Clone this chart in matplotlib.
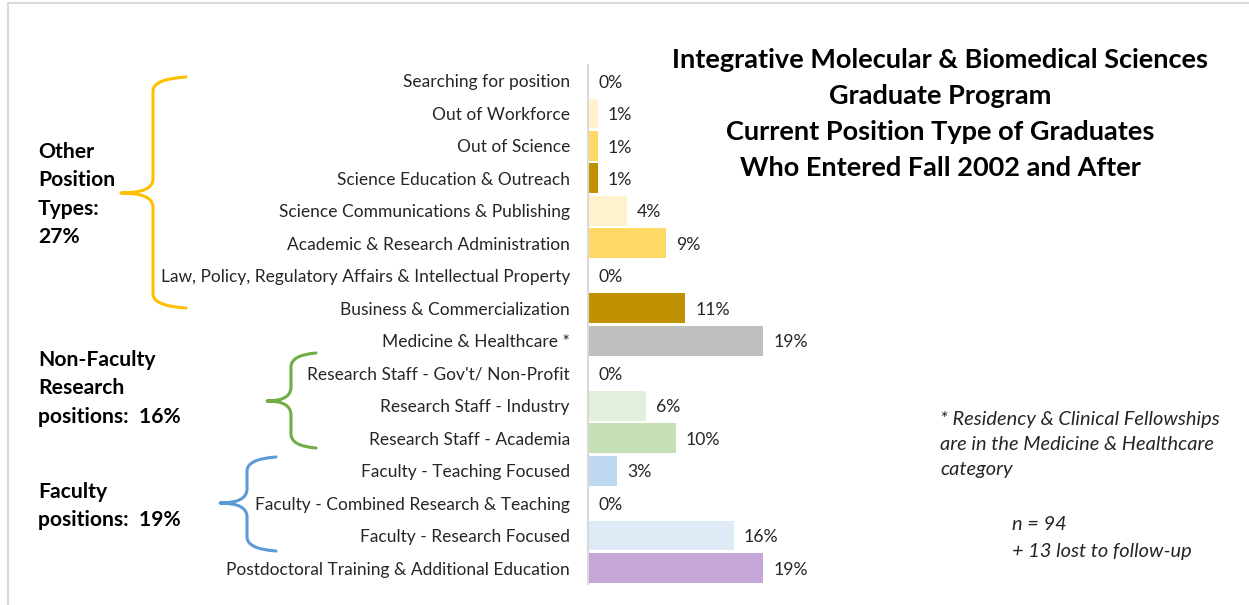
import numpy as np
import matplotlib
matplotlib.use('Agg')
import matplotlib.pyplot as plt
from matplotlib.path import Path
from matplotlib.patches import PathPatch

plt.rcParams['font.family'] = ['Lato', 'DejaVu Sans']

# graduates by current position, n = 94
categories = ['Searching for position', 'Out of Workforce', 'Out of Science',
              'Science Education & Outreach', 'Science Communications & Publishing',
              'Academic & Research Administration',
              'Law, Policy, Regulatory Affairs & Intellectual Property',
              'Business & Commercialization', 'Medicine & Healthcare *',
              "Research Staff - Gov't/ Non-Profit", 'Research Staff - Industry',
              'Research Staff - Academia', 'Faculty - Teaching Focused',
              'Faculty - Combined Research & Teaching', 'Faculty - Research Focused',
              'Postdoctoral Training & Additional Education']
counts = [0, 1, 1, 1, 4, 8, 0, 10, 18, 0, 6, 9, 3, 0, 15, 18]
n_total = 94
colors = ['#FFF2CC', '#FFF2CC', '#FFD966', '#BF9000', '#FFF2CC', '#FFD966',
          '#BF9000', '#BF9000', '#BFBFBF', '#A9D18E', '#E2EFDA', '#C5E0B4',
          '#BDD7EE', '#BDD7EE', '#DEEBF7', '#C5A6D8']

group_labels = [['Other', 'Position', 'Types:', '27%'],
                ['Non-Faculty', 'Research', 'positions:  16%'],
                ['Faculty', 'positions:  19%']]
group_y = [152, 360, 492]

pct = np.array(counts) / n_total * 100

W, H = 1249, 605
fig = plt.figure(figsize=(W / 100, H / 100), dpi=100)

# bar axes, placed in pixel units
row = 32.47
y0 = 81 - row / 2
y1 = 568 + row / 2
ax_l, ax_r = 588, 1200
ax = fig.add_axes([ax_l / W, 1 - y1 / H, (ax_r - ax_l) / W, (y1 - y0) / H])
ypos = np.arange(len(categories))
ax.barh(ypos, pct, height=0.92, color=colors, edgecolor='none')
ax.set_ylim(len(categories) - 0.5, -0.5)
ax.set_xlim(0, (ax_r - ax_l) / 9.14)
ax.set_yticks(ypos)
ax.set_yticklabels(categories, fontsize=12.5, color='#262626')
ax.tick_params(axis='y', length=0, pad=13)
ax.set_xticks([])
for s in ['top', 'right', 'bottom']:
    ax.spines[s].set_visible(False)
ax.spines['left'].set_color('#D9D9D9')
ax.spines['left'].set_linewidth(1.5)
for i, v in enumerate(pct):
    ax.text(v + 1.1, i + 0.05, '%d%%' % round(v), va='center', ha='left',
            fontsize=12.7, color='#262626')

# overlay in pixel coords for braces, text and frame
ov = fig.add_axes([0, 0, 1, 1], facecolor='none')
ov.set_xlim(0, W)
ov.set_ylim(H, 0)
ov.axis('off')

ov.plot([8, 8, W], [H, 3, 3], color='#D9D9D9', lw=1.5)


def brace(xe, xv, xt, yt, ym, yb, col):
    r = 14
    verts = [(xe, yt), (xv, yt + 2), (xv, yt + r),
             (xv, ym - r), (xv, ym), (xt, ym),
             (xv, ym), (xv, ym + r),
             (xv, yb - r), (xv, yb - 2), (xe, yb)]
    codes = [Path.MOVETO, Path.CURVE3, Path.CURVE3,
             Path.LINETO, Path.CURVE3, Path.CURVE3,
             Path.CURVE3, Path.CURVE3,
             Path.LINETO, Path.CURVE3, Path.CURVE3]
    ov.add_patch(PathPatch(Path(verts, codes), facecolor='none', edgecolor=col,
                           lw=2.2, capstyle='round', joinstyle='round'))


brace(186, 153, 121, 77, 193, 308, '#FFC000')
brace(316, 291, 267, 353, 401, 448, '#70AD47')
brace(276, 247, 220, 457, 503, 551, '#5B9BD5')

for lines, yy in zip(group_labels, group_y):
    for k, t in enumerate(lines):
        ov.text(38, yy + 28.3 * k, t, fontsize=15.2, fontweight='bold',
                color='black', va='center', ha='left')

title_lines = ['Integrative Molecular & Biomedical Sciences', 'Graduate Program',
               'Current Position Type of Graduates', 'Who Entered Fall 2002 and After']
for k, t in enumerate(title_lines):
    ov.text(940, 60 + 36 * k, t, fontsize=19.5, fontweight='bold', color='black',
            ha='center', va='center')

note = ['* Residency & Clinical Fellowships', 'are in the Medicine & Healthcare',
        'category']
for k, t in enumerate(note):
    ov.text(940, 419 + 25.5 * k, t, fontsize=14.4, style='italic', color='#262626',
            ha='left', va='center')
ov.text(1012, 524, 'n = 94', fontsize=14.4, style='italic', color='#262626',
        ha='left', va='center')
ov.text(1012, 551, '+ 13 lost to follow-up', fontsize=14.4, style='italic',
        color='#262626', ha='left', va='center')

fig.savefig('out.png', dpi=100, facecolor='white')
